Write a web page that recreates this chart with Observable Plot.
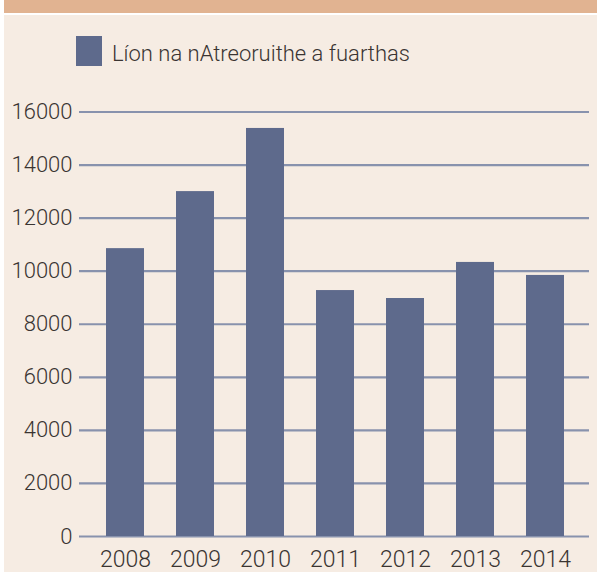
<!DOCTYPE html>
<html><head><meta charset="utf-8">
<script src="https://cdn.jsdelivr.net/npm/d3@7"></script>
<script src="https://cdn.jsdelivr.net/npm/@observablehq/plot@0.6"></script>
<style>
html,body{margin:0;padding:0;}
body{background:#fff;width:597px;height:572px;overflow:hidden;position:relative;font-family:Roboto,"Liberation Sans",Arial,sans-serif;font-weight:300;}
#band{position:absolute;left:4px;top:0;width:593px;height:13px;background:#e1b391;}
#panel{position:absolute;left:4px;top:15px;width:593px;height:557px;background:#f6ece3;}
#legend{position:absolute;left:76px;top:36px;display:flex;align-items:center;}
#legend .sw{width:26px;height:30px;background:#5e6a8c;}
#legend span{margin-left:10px;font-size:22px;color:#3a3432;white-space:nowrap;font-weight:300;position:relative;top:2px;}
#chart{position:absolute;left:0;top:80px;}
</style>
</head><body>
<div id="band"></div>
<div id="panel"></div>
<div id="legend"><div class="sw"></div><span id="legtext"></span></div>
<div id="chart"></div>
<script>
const seriesName = "Líon na nAtreoruithe a fuarthas";
const years = ["2008", "2009", "2010", "2011", "2012", "2013", "2014"];
const values = [10850, 13000, 15380, 9270, 8970, 10330, 9840];
const yTicks = [0, 2000, 4000, 6000, 8000, 10000, 12000, 14000, 16000];

const data = years.map((y, i) => ({year: y, value: values[i]}));
document.getElementById("legtext").textContent = seriesName;

const chart = Plot.plot({
  width: 597,
  height: 492,
  marginLeft: 79,
  marginRight: 8,
  marginTop: 31.5,
  marginBottom: 36,
  style: {background: "transparent", fontFamily: "Roboto, 'Liberation Sans', Arial, sans-serif", fontWeight: 300, color: "#3a3432", fontSize: "22px"},
  x: {domain: years, range: [90, 580], paddingInner: 0.457, paddingOuter: 0.2285, align: 0.5, label: null},
  y: {domain: [0, 16000], label: null},
  marks: [
    Plot.ruleY(yTicks, {stroke: "#8892ad", strokeWidth: 2.2}),
    Plot.barY(data, {x: "year", y: "value", fill: "#5e6a8c"}),
    Plot.axisY(yTicks, {tickSize: 0, tickPadding: 7, fontSize: 22, label: null, tickFormat: d => String(d)}),
    Plot.axisX({tickSize: 0, tickPadding: 14, fontSize: 23, label: null})
  ]
});
document.getElementById("chart").appendChild(chart);
</script>
</body></html>
